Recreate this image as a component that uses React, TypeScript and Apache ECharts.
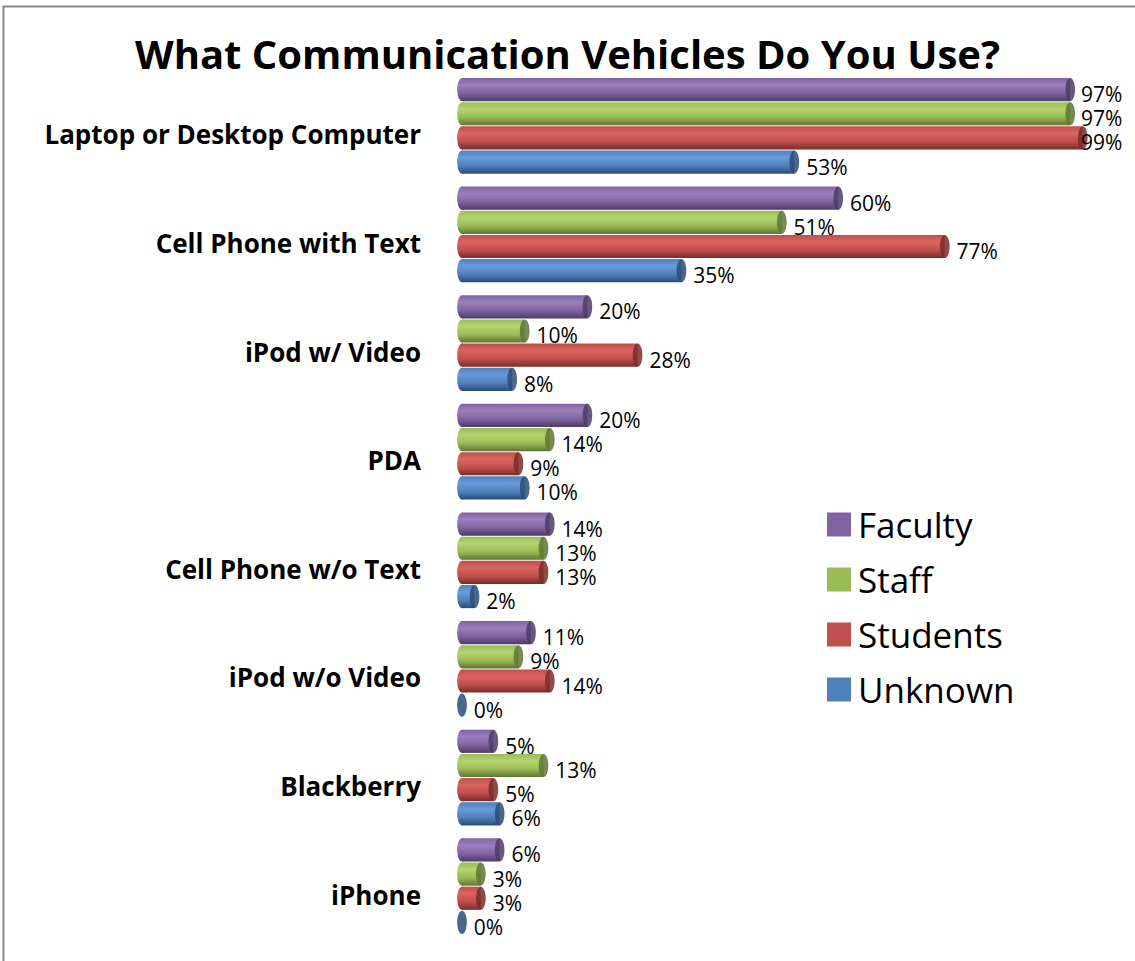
import React, { useEffect, useRef } from "react";
import * as echarts from "echarts";

const categories = [
  "Laptop or Desktop Computer",
  "Cell Phone with Text",
  "iPod w/ Video",
  "PDA",
  "Cell Phone w/o Text",
  "iPod w/o Video",
  "Blackberry",
  "iPhone",
];
const seriesNames = ["Faculty", "Staff", "Students", "Unknown"];
const faculty = [97, 60, 20, 20, 14, 11, 5, 6];
const staff = [97, 51, 10, 14, 13, 9, 13, 3];
const students = [99, 77, 28, 9, 13, 14, 5, 3];
const unknown = [53, 35, 8, 10, 2, 0, 6, 0];
const seriesValues = [faculty, staff, students, unknown];

const baseColors = ["#8064A2", "#9BBB59", "#C0504D", "#4F81BD"];
const lightColors = ["#9A80BC", "#B5D46F", "#DA6460", "#6A9BD8"];
const darkColors = ["#4E3B66", "#5E7534", "#7A2B29", "#2C4C75"];

const FONT = "'Open Sans', Lato, sans-serif";
const W = 1135;

export default function App() {
  const ref = useRef<HTMLDivElement>(null);
  useEffect(() => {
    if (!ref.current) return;
    const chart = echarts.init(ref.current, null, { renderer: "svg" });
    const groupFrac = 0.89;

    const series = seriesNames.map((name, si) => ({
      type: "custom",
      name,
      color: baseColors[si],
      data: seriesValues[si].map((v, ci) => [v, ci]),
      encode: { x: 0, y: 1 },
      renderItem: (params: any, api: any) => {
        const v = api.value(0);
        const ci = api.value(1);
        const p0 = api.coord([0, ci]);
        const p1 = api.coord([v, ci]);
        const band = api.size([0, 1])[1];
        const groupH = band * groupFrac;
        const barH = groupH / 4;
        const top = p0[1] - groupH / 2 + si * barH;
        const cy = top + barH / 2;
        const rx = Math.max(3, barH * 0.2);
        const x0 = p0[0];
        const x1 = p1[0];
        const grad = new echarts.graphic.LinearGradient(0, 0, 0, 1, [
          { offset: 0, color: baseColors[si] },
          { offset: 0.3, color: lightColors[si] },
          { offset: 0.65, color: baseColors[si] },
          { offset: 1, color: darkColors[si] },
        ]);
        const children: any[] = [];
        if (x1 - x0 > 0.5) {
          children.push({
            type: "rect",
            shape: { x: x0, y: top, width: x1 - x0, height: barH - 1 },
            style: { fill: grad },
          });
          children.push({
            type: "ellipse",
            shape: { cx: x0, cy: top + (barH - 1) / 2, rx: rx, ry: (barH - 1) / 2 },
            style: { fill: grad },
          });
        }
        children.push({
          type: "ellipse",
          shape: { cx: x1, cy: top + (barH - 1) / 2, rx: rx, ry: (barH - 1) / 2 },
          style: { fill: darkColors[si], opacity: 0.85 },
        });
        const tx = Math.min(x1 + rx + 7, W - 54);
        children.push({
          type: "text",
          style: {
            x: tx,
            y: cy + 4,
            text: v + "%",
            fill: "#000",
            font: "21px " + FONT,
            verticalAlign: "middle",
            align: "left",
          },
        });
        return { type: "group", children };
      },
    }));

    chart.setOption({
      animation: false,
      backgroundColor: "#fff",
      title: {
        text: "What Communication Vehicles Do You Use?",
        left: "center",
        top: 28,
        textStyle: { fontSize: 40, fontWeight: "bold", color: "#000", fontFamily: FONT },
      },
      legend: {
        orient: "vertical",
        left: 822,
        top: 502,
        itemWidth: 24,
        itemHeight: 24,
        itemGap: 20,
        icon: "rect",
        textStyle: { fontSize: 35, color: "#000", fontFamily: FONT, padding: [0, 0, 0, 2] },
        data: seriesNames,
      },
      grid: { left: 462, right: 46, top: 72, bottom: 20, containLabel: false },
      xAxis: {
        type: "value",
        min: 0,
        max: 100,
        show: false,
      },
      yAxis: {
        type: "category",
        data: categories,
        inverse: true,
        axisLine: { show: false },
        axisTick: { show: false },
        splitLine: { show: false },
        axisLabel: {
          margin: 41,
          formatter: (v: string) => "{a|" + v + "}",
          rich: {
            a: {
              fontSize: 26,
              fontWeight: "bold",
              color: "#000",
              fontFamily: FONT,
              padding: [16, 0, 0, 0],
            },
          },
        },
      },
      graphic: [
        {
          type: "rect",
          left: 1,
          top: 4,
          shape: { width: 1200, height: 1100 },
          style: { fill: "none", stroke: "#888", lineWidth: 2 },
          silent: true,
        },
      ],
      series,
    });
    return () => chart.dispose();
  }, []);
  return (
    <div
      ref={ref}
      style={{ position: "absolute", left: 0, top: 0, width: 1135, height: 961 }}
    />
  );
}
